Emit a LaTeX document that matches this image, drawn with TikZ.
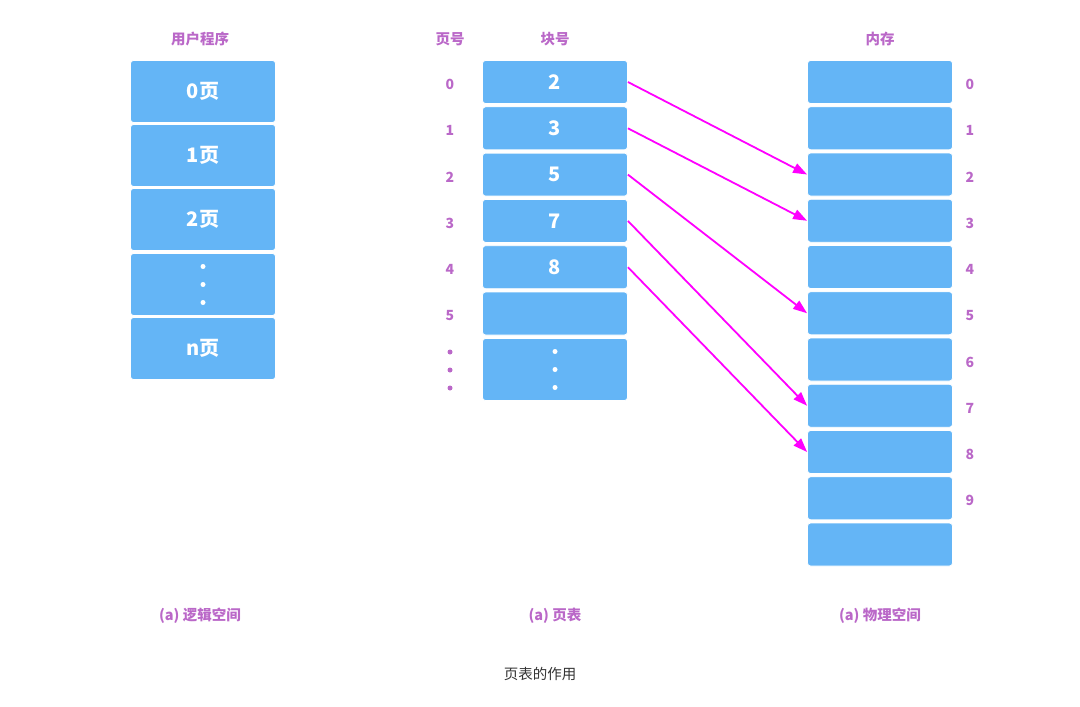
\documentclass[tikz,border=0pt]{standalone}
\usepackage{fontspec}
\setmainfont{Noto Sans CJK SC}
\usepackage{xcolor}
\definecolor{cellblue}{HTML}{64B5F6}
\definecolor{labelpurple}{HTML}{BA68C8}
\definecolor{linkpink}{HTML}{FF00FF}
\definecolor{captiongray}{HTML}{333333}
\usetikzlibrary{arrows.meta,positioning,calc}

\begin{document}
\begin{tikzpicture}[
  x=1pt, y=-1pt,
  cell/.style={draw=white, line width=0.8pt, fill=cellblue, rounded corners=3pt, minimum width=145pt, minimum height=43pt, inner sep=0pt, text=white, font=\bfseries\fontsize{20}{22}\selectfont},
  tallcell/.style={cell, minimum height=62pt},
  head/.style={text=labelpurple, font=\bfseries\fontsize{14.5}{16}\selectfont},
  idx/.style={text=labelpurple, font=\bfseries\fontsize{14}{16}\selectfont, yshift=-2.5pt},
  link/.style={-{Triangle[length=14pt,width=10pt]}, line width=1.8pt, color=linkpink}
]
\useasboundingbox (0,0) rectangle (1080,707);

% headers
\node[head] (hprog) at (200,39) {用户程序};
\node[head] (hpage) at (450,39) {页号};
\node[head] (hblock) at (555,39) {块号};
\node[head] (hmem) at (880,39) {内存};

% logical space
\node[tallcell] (lp0) at (203,91.5) {0页};
\node[tallcell] (lp1) at (203,155.5) {1页};
\node[tallcell] (lp2) at (203,219.5) {2页};
\node[tallcell] (lp3) at (203,284.5) {};
\node[tallcell] (lp4) at (203,348.5) {n页};
\foreach \dy in {-18,0,18}
  \fill[white] ($(lp3.center)+(0,\dy)$) circle (2.5pt);

% page table
\foreach \blk [count=\i from 0] in {2,3,5,7,8,{}} {
  \node[cell] (pt\i) at (555,82+46.3*\i) {\blk};
  \node[idx] (pn\i) at (450,82+46.3*\i) {\i};
}
\node[tallcell] (pt6) at (555,369.5) {};
\foreach \dy in {-18,0,18} {
  \fill[white] ($(pt6.center)+(0,\dy)$) circle (2.5pt);
  \fill[labelpurple] ($(450,370)+(0,\dy)$) circle (2.5pt);
}

% physical memory
\foreach \i in {0,...,10}
  \node[cell] (mf\i) at (880,82+46.25*\i) {};
\foreach \i in {0,...,9}
  \node[idx] (mn\i) at (970,82+46.25*\i) {\i};

% mapping
\draw[link] (pt0.east) -- (mf2.west);
\draw[link] (pt1.east) -- (mf3.west);
\draw[link] (pt2.east) -- (mf5.west);
\draw[link] (pt3.east) -- (mf7.west);
\draw[link] (pt4.east) -- (mf8.west);

% captions
\node[head] (clog) at (200,616) {(a) 逻辑空间};
\node[head] (ctab) at (555,616) {(a) 页表};
\node[head] (cphy) at (880,616) {(a) 物理空间};
\node[text=captiongray, font=\fontsize{14.5}{16}\selectfont] (title) at (540,674) {页表的作用};
\end{tikzpicture}
\end{document}
